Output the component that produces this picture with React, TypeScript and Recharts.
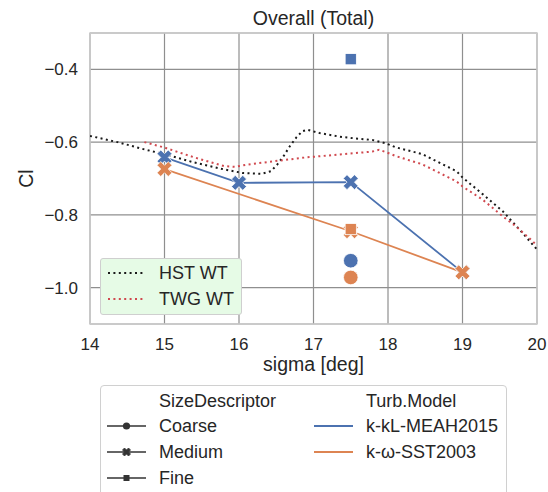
import React from 'react';
import { ComposedChart, Line, Scatter, XAxis, YAxis, CartesianGrid, ReferenceArea, Label } from 'recharts';

const SIGMA_TICKS = [14, 15, 16, 17, 18, 19, 20];
const CL_TICKS = [-1.0, -0.8, -0.6, -0.4];

// wind tunnel measurements
const hstSigma = [14.0, 14.37, 14.73, 15.0, 15.4, 15.8, 16.05, 16.3, 16.43, 16.52, 16.6, 16.68, 16.77, 16.85, 16.92, 17.08, 17.35, 17.57, 17.79, 17.98, 18.1, 18.46, 18.92, 19.0, 19.27, 19.54, 19.72, 20.0];
const hstCl = [-0.583, -0.6, -0.62, -0.633, -0.656, -0.675, -0.685, -0.687, -0.68, -0.66, -0.638, -0.612, -0.587, -0.57, -0.566, -0.575, -0.585, -0.59, -0.594, -0.604, -0.614, -0.633, -0.68, -0.697, -0.743, -0.79, -0.83, -0.895];
const twgSigma = [14.73, 15.0, 15.4, 15.8, 15.95, 16.1, 16.45, 16.9, 17.35, 17.79, 17.88, 17.98, 18.1, 18.46, 18.92, 19.0, 19.27, 19.54, 19.72, 19.94, 20.0];
const twgCl = [-0.6, -0.615, -0.642, -0.666, -0.668, -0.662, -0.653, -0.642, -0.634, -0.626, -0.621, -0.628, -0.638, -0.661, -0.708, -0.722, -0.758, -0.804, -0.832, -0.872, -0.885];

// CFD, medium grid sweep
const meahMediumSigma = [15, 16, 17.5, 19];
const meahMediumCl = [-0.642, -0.712, -0.71, -0.958];
const sstMediumSigma = [15, 17.5, 19];
const sstMediumCl = [-0.674, -0.845, -0.958];

// grid study at a single incidence
const gridSigma = [17.5];
const meahCoarseCl = [-0.926];
const meahFineCl = [-0.372];
const sstCoarseCl = [-0.972];
const sstFineCl = [-0.839];

const BLUE = '#4c72b0';
const ORANGE = '#dd8452';
const RED = '#d0494f';
const INK = '#262626';
const FONT = '"Liberation Sans", Arial, sans-serif';

const pts = (xs: number[], ys: number[]) => xs.map((x, i) => ({ x, y: ys[i] }));

const X_PATH = [[-1, -2], [0, -1], [1, -2], [2, -1], [1, 0], [2, 1], [1, 2], [0, 1], [-1, 2], [-2, 1], [-1, 0], [-2, -1]];

const XMark = ({ cx, cy, fill, size = 15, edge = '#fff' }: any) => {
  const d = X_PATH.map(([a, b], i) => `${i ? 'L' : 'M'}${cx + (a / 4) * size},${cy + (b / 4) * size}`).join('') + 'Z';
  return <path d={d} fill={fill} stroke={edge} strokeWidth={0.8} />;
};

const xDot = (fill: string) => (props: any) => (
  <XMark key={`x-${props.index}`} cx={props.cx} cy={props.cy} fill={fill} />
);
const circleShape = (fill: string) => (props: any) => (
  <circle cx={props.cx} cy={props.cy} r={7.3} fill={fill} stroke="#fff" strokeWidth={0.8} />
);
const squareShape = (fill: string) => (props: any) => (
  <rect x={props.cx - 5.6} y={props.cy - 5.6} width={11.2} height={11.2} fill={fill} stroke="#fff" strokeWidth={0.8} />
);

const fmtCl = (v: number) => v.toFixed(1).replace('-', '\u2212');

const legendText: React.CSSProperties = { position: 'absolute', height: 26, lineHeight: '26px', fontSize: 18, color: INK, whiteSpace: 'nowrap' };

const Swatch = ({ left, top, children }: any) => (
  <svg style={{ position: 'absolute', left, top }} width={40} height={26}>{children}</svg>
);

export default function App() {
  return (
    <div style={{ position: 'relative', width: 548, height: 492, overflow: 'hidden', background: '#fff', fontFamily: FONT }}>
      <style>{'body{margin:0}'}</style>
      <div style={{ position: 'absolute', left: 0, width: 627, top: 7, textAlign: 'center', fontSize: 19.5, lineHeight: '22px', color: INK }}>
        Overall (Total)
      </div>
      <ComposedChart width={548} height={380} margin={{ top: 33, right: 11, bottom: 6, left: 10 }}>
        <CartesianGrid stroke="#8f8f8f" strokeWidth={1.2} />
        <XAxis
          type="number"
          dataKey="x"
          domain={[14, 20]}
          ticks={SIGMA_TICKS}
          allowDataOverflow
          height={50}
          axisLine={false}
          tickLine={false}
          tickSize={0}
          tickMargin={14}
          tick={{ fill: INK, fontSize: 17, fontFamily: FONT }}
        >
          <Label value="sigma [deg]" position="insideBottom" offset={3} style={{ fill: INK, fontSize: 19.5, fontFamily: FONT }} />
        </XAxis>
        <YAxis
          type="number"
          dataKey="y"
          domain={[-1.1, -0.3]}
          ticks={CL_TICKS}
          allowDataOverflow
          width={80}
          axisLine={false}
          tickLine={false}
          tickSize={0}
          tickMargin={12}
          tickFormatter={fmtCl}
          tick={{ fill: INK, fontSize: 17, fontFamily: FONT }}
        >
          <Label
            content={({ viewBox }: any) => (
              <text
                x={viewBox.x + 23}
                y={viewBox.y + viewBox.height / 2}
                transform={`rotate(-90 ${viewBox.x + 23} ${viewBox.y + viewBox.height / 2})`}
                textAnchor="middle"
                fill={INK}
                fontSize={19.5}
                fontFamily={FONT}
              >
                Cl
              </text>
            )}
          />
        </YAxis>
        <ReferenceArea x1={14} x2={20} y1={-1.1} y2={-0.3} fill="none" stroke="#cccccc" strokeWidth={1.5} ifOverflow="visible" />

        <Line data={pts(hstSigma, hstCl)} dataKey="y" type="linear" stroke="#1a1a1a" strokeWidth={2} strokeDasharray="2 3.4" dot={false} isAnimationActive={false} />
        <Line data={pts(twgSigma, twgCl)} dataKey="y" type="linear" stroke={RED} strokeWidth={2} strokeDasharray="2 3.4" dot={false} isAnimationActive={false} />

        <Line data={pts(meahMediumSigma, meahMediumCl)} dataKey="y" type="linear" stroke={BLUE} strokeWidth={1.8} dot={xDot(BLUE)} activeDot={false} isAnimationActive={false} />
        <Scatter data={pts(gridSigma, meahCoarseCl)} dataKey="y" shape={circleShape(BLUE)} isAnimationActive={false} />
        <Scatter data={pts(gridSigma, meahFineCl)} dataKey="y" shape={squareShape(BLUE)} isAnimationActive={false} />
        <Line data={pts(sstMediumSigma, sstMediumCl)} dataKey="y" type="linear" stroke={ORANGE} strokeWidth={1.8} dot={xDot(ORANGE)} activeDot={false} isAnimationActive={false} />
        <Scatter data={pts(gridSigma, sstCoarseCl)} dataKey="y" shape={circleShape(ORANGE)} isAnimationActive={false} />
        <Scatter data={pts(gridSigma, sstFineCl)} dataKey="y" shape={squareShape(ORANGE)} isAnimationActive={false} />
      </ComposedChart>

      {/* experiment legend inside the axes */}
      <div style={{ position: 'absolute', left: 100, top: 258, width: 142, height: 57, boxSizing: 'border-box', background: '#e6fbe6', border: '1px solid #cfcfcf', borderRadius: 3 }}>
        <Swatch left={6} top={1}><line x1={1} y1={13} x2={36} y2={13} stroke="#1a1a1a" strokeWidth={2} strokeDasharray="2 3.4" /></Swatch>
        <div style={{ ...legendText, left: 58, top: 1 }}>HST WT</div>
        <Swatch left={6} top={27}><line x1={1} y1={13} x2={36} y2={13} stroke={RED} strokeWidth={2} strokeDasharray="2 3.4" /></Swatch>
        <div style={{ ...legendText, left: 58, top: 27 }}>TWG WT</div>
      </div>

      {/* grid size / turbulence model legend */}
      <div style={{ position: 'absolute', left: 100, top: 385, width: 407, height: 130, boxSizing: 'border-box', background: '#fff', border: '1px solid #d0d0d0', borderRadius: 4 }}>
        <div style={{ ...legendText, left: 58, top: 2 }}>SizeDescriptor</div>
        <Swatch left={6} top={27}>
          <line x1={0} y1={13} x2={39} y2={13} stroke="#333" strokeWidth={1.5} />
          <circle cx={19.5} cy={13} r={3.6} fill="#333" />
        </Swatch>
        <div style={{ ...legendText, left: 58, top: 27 }}>Coarse</div>
        <Swatch left={6} top={53}>
          <line x1={0} y1={13} x2={39} y2={13} stroke="#333" strokeWidth={1.5} />
          <XMark cx={19.5} cy={13} size={8} fill="#333" edge="#333" />
        </Swatch>
        <div style={{ ...legendText, left: 58, top: 53 }}>Medium</div>
        <Swatch left={6} top={79}>
          <line x1={0} y1={13} x2={39} y2={13} stroke="#333" strokeWidth={1.5} />
          <rect x={16.5} y={10} width={6} height={6} fill="#333" />
        </Swatch>
        <div style={{ ...legendText, left: 58, top: 79 }}>Fine</div>

        <div style={{ ...legendText, left: 265, top: 2 }}>Turb.Model</div>
        <Swatch left={213} top={27}><line x1={0} y1={13} x2={39} y2={13} stroke={BLUE} strokeWidth={1.8} /></Swatch>
        <div style={{ ...legendText, left: 265, top: 27 }}>k-kL-MEAH2015</div>
        <Swatch left={213} top={53}><line x1={0} y1={13} x2={39} y2={13} stroke={ORANGE} strokeWidth={1.8} /></Swatch>
        <div style={{ ...legendText, left: 265, top: 53 }}>k-ω-SST2003</div>
      </div>
    </div>
  );
}
